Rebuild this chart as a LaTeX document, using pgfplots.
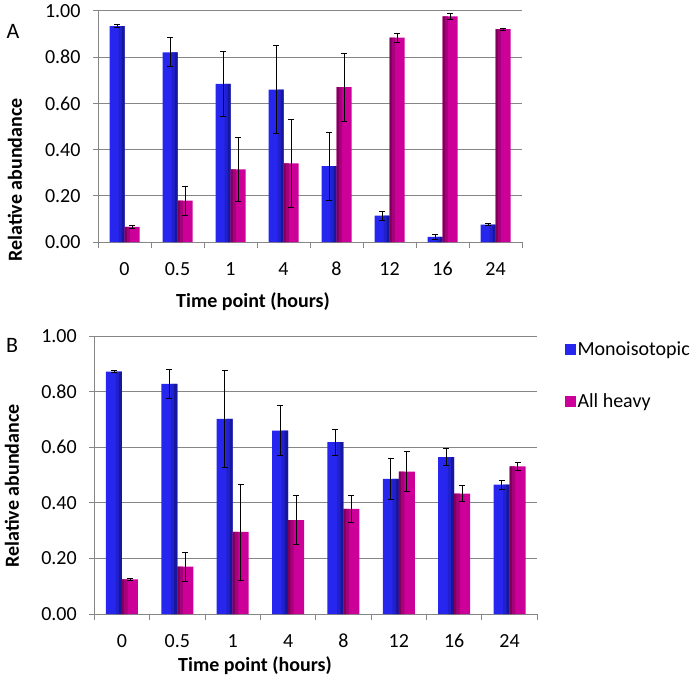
\documentclass[border=0pt]{standalone}
\usepackage{fontspec}
\setmainfont{Carlito}
\usepackage{pgfplots}
\usepackage{pgfplotstable}
\pgfplotsset{compat=1.18}
\definecolor{gridgray}{HTML}{868686}
\definecolor{bluem}{HTML}{2626EE}
\definecolor{blued1}{HTML}{2020CC}
\definecolor{blued2}{HTML}{17179E}
\definecolor{magm}{HTML}{CC0099}
\definecolor{magd1}{HTML}{7E0058}
\definecolor{magd2}{HTML}{A6007C}

\pgfplotstableread{
x mono monoerr heavy heavyerr
0 0.935 0.007 0.065 0.007
1 0.821 0.063 0.179 0.063
2 0.684 0.140 0.314 0.140
3 0.660 0.190 0.340 0.190
4 0.329 0.147 0.670 0.147
5 0.114 0.020 0.885 0.020
6 0.022 0.010 0.977 0.012
7 0.075 0.004 0.922 0.004
}\dataA
\pgfplotstableread{
x mono monoerr heavy heavyerr
0 0.872 0.003 0.125 0.003
1 0.828 0.051 0.170 0.051
2 0.702 0.173 0.295 0.173
3 0.660 0.089 0.338 0.088
4 0.618 0.046 0.378 0.047
5 0.486 0.073 0.512 0.072
6 0.564 0.030 0.433 0.029
7 0.465 0.017 0.531 0.016
}\dataB

\pgfplotsset{
  panel/.style={
    scale only axis,
    ymin=0, ymax=1,
    xmin=-0.5, xmax=7.5,
    ytick={0,0.2,...,1.0},
    xtick={0,...,7},
    xticklabels={0,0.5,1,4,8,12,16,24},
    minor xtick={-0.5,0.5,...,7.5},
    major x tick style={draw=none},
    minor tick length=6pt,
    major tick length=5pt,
    tick align=outside,
    axis x line*=bottom,
    axis y line*=left,
    axis line style={gridgray, line width=1pt, -},
    tick style={gridgray, line width=1pt},
    ymajorgrids,
    grid style={gridgray, line width=1pt},
    /pgf/number format/assume math mode=true,
    yticklabel style={/pgf/number format/fixed, /pgf/number format/fixed zerofill,
      /pgf/number format/precision=2, xshift=-9pt},
    tick label style={font=\fontsize{20}{22}\selectfont},
    xticklabel style={anchor=center, yshift=-22pt},
    clip=false,
    legend image code/.code={\fill[##1] (0pt,-5.5pt) rectangle (11pt,5.5pt);},
  },
  bar/.style={ybar, bar width=#1pt, bar shift=0pt, draw=none},
  strip/.style={ybar, bar width=#1pt, bar shift=0pt, draw=none, forget plot},
  err/.style={draw=none, mark=none, forget plot,
    error bars/.cd, y dir=both, y explicit,
    error bar style={draw=black, line width=0.8pt},
    error mark options={rotate=90, draw=black, mark size=3pt, line width=0.8pt}},
}

\begin{document}
\begin{tikzpicture}
\useasboundingbox (0,0) rectangle (700pt,681pt);

% panel A  (1 unit = 53pt, bar 15pt); x expr moves each bar off the category centre
\begin{axis}[panel, at={(98pt,439pt)}, anchor=south west,
  width=424pt, height=231pt]
\addplot[bar=15, fill=bluem] table[x expr=\thisrow{x}-0.1415, y=mono] {\dataA};
\addplot[strip=3, fill=blued1] table[x expr=\thisrow{x}-0.0849, y=mono] {\dataA};
\addplot[strip=3, fill=blued2] table[x expr=\thisrow{x}-0.0283, y=mono] {\dataA};
\addplot[bar=15, fill=magm] table[x expr=\thisrow{x}+0.1415, y=heavy] {\dataA};
\addplot[strip=2.25, fill=magd1] table[x expr=\thisrow{x}+0.0212, y=heavy] {\dataA};
\addplot[strip=3, fill=magd2] table[x expr=\thisrow{x}+0.0708, y=heavy] {\dataA};
\addplot[err] table[x expr=\thisrow{x}-0.1415, y=mono, y error=monoerr] {\dataA};
\addplot[err] table[x expr=\thisrow{x}+0.1415, y=heavy, y error=heavyerr] {\dataA};
\end{axis}

% panel B  (1 unit = 55.4pt, bar 16pt)
\begin{axis}[panel, at={(94.3pt,67pt)}, anchor=south west,
  width=443pt, height=278pt,
  legend style={at={(1.061,0.988)}, anchor=north west, draw=none, fill=none,
    font=\fontsize{20}{22}\selectfont, row sep=33pt,
    inner sep=0pt, legend cell align=left},
  ]
\addplot[bar=16, fill=bluem] table[x expr=\thisrow{x}-0.1445, y=mono] {\dataB};
\addlegendentry{Monoisotopic}
\addplot[strip=3.2, fill=blued1] table[x expr=\thisrow{x}-0.0867, y=mono] {\dataB};
\addplot[strip=3.2, fill=blued2] table[x expr=\thisrow{x}-0.0289, y=mono] {\dataB};
\addplot[bar=16, fill=magm] table[x expr=\thisrow{x}+0.1445, y=heavy] {\dataB};
\addlegendentry{All heavy}
\addplot[strip=2.4, fill=magd1] table[x expr=\thisrow{x}+0.0217, y=heavy] {\dataB};
\addplot[strip=3.2, fill=magd2] table[x expr=\thisrow{x}+0.0722, y=heavy] {\dataB};
\addplot[err] table[x expr=\thisrow{x}-0.1445, y=mono, y error=monoerr] {\dataB};
\addplot[err] table[x expr=\thisrow{x}+0.1445, y=heavy, y error=heavyerr] {\dataB};
\end{axis}

% labels
\node[font=\fontsize{22}{24}\selectfont] at (13pt,650pt) {A};
\node[font=\fontsize{22}{24}\selectfont] at (12pt,336pt) {B};
\node[rotate=90, font=\bfseries\fontsize{20}{22}\selectfont] at (15pt,501pt) {Relative abundance};
\node[rotate=90, font=\bfseries\fontsize{20}{22}\selectfont] at (12pt,195pt) {Relative abundance};
\node[font=\bfseries\fontsize{20}{22}\selectfont] at (253pt,379pt) {Time point (hours)};
\node[font=\bfseries\fontsize{20}{22}\selectfont] at (255pt,15pt) {Time point (hours)};
\end{tikzpicture}
\end{document}
